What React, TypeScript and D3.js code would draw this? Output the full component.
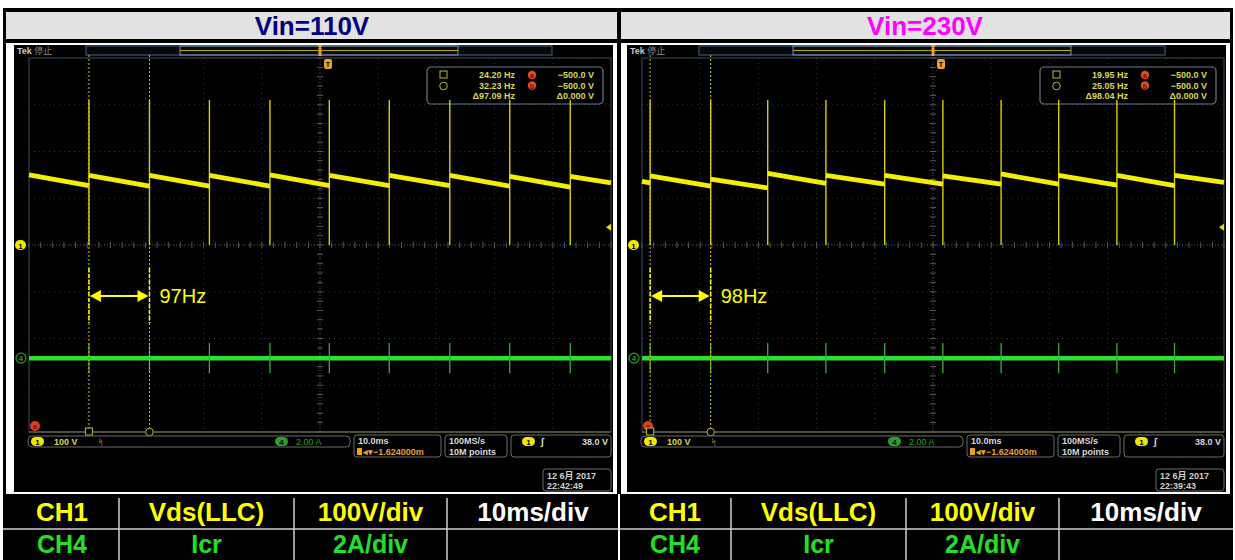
import React from "react";
import * as d3 from "d3";

const W = 1235;
const H = 560;

const panelTitles = ["Vin=110V", "Vin=230V"];
const titleColors = ["#000080", "#ff00ff"];
const freqLabels = ["97Hz", "98Hz"];

// switching-burst spike times (ms from trigger), 10 ms/div
const spikeTimes110 = [-39.7, -29.3, -19.0, -8.6, 1.6, 11.9, 22.3, 32.6, 43.0];
const spikeTimes230 = [-48.6, -38.2, -28.4, -18.4, -8.3, 1.7, 11.7, 21.6, 31.6, 41.5];
// Vds sawtooth level (V) at start / end of each segment between spikes
const segStart110 = [150, 149, 149, 149, 150, 149, 149, 149, 147, 147];
const segEnd110 = [127, 126, 126, 126, 127, 127, 127, 126, 124, 133];
const segStart230 = [136, 148, 141, 153, 149, 149, 148, 152, 149, 149, 149];
const segEnd230 = [133, 126, 122, 132, 130, 130, 130, 130, 128, 127, 134];
const spikePeakV = 310;
const ch4SpikeA = 0.65;

const cursorTimes110 = [-39.7, -29.3];
const cursorTimes230 = [-48.6, -38.2];
const cursorHz110 = ["24.20 Hz", "32.23 Hz", "\u039497.09 Hz"];
const cursorHz230 = ["19.95 Hz", "25.05 Hz", "\u039498.04 Hz"];
const cursorVolts = ["\u2212500.0 V", "\u2212500.0 V", "\u03940.000 V"];
const dates110 = ["12 6\u6708  2017", "22:42:49"];
const dates230 = ["12 6\u6708  2017", "22:39:43"];

const ch1VoltsPerDiv = 100;
const ch4AmpsPerDiv = 2;
const ch4PositionDiv = -2.42;
const triggerLevelV = 38.0;
const timeDomain = [-50, 50];
const hDivs = 10;
const vDivs = 8;

const tableRow1 = ["CH1", "Vds(LLC)", "100V/div", "10ms/div"];
const tableRow2 = ["CH4", "Icr", "2A/div", ""];
const row1Colors = ["#ffff00", "#ffff00", "#ffff00", "#ffffff"];
const row2Colors = ["#22e022", "#22e022", "#22e022", "#ffffff"];

const SANS = "'Liberation Sans', Arial, 'Noto Sans CJK SC', sans-serif";
const YEL = "#f4ef00";

type ScopeProps = {
  x0: number;
  spikes: number[];
  segStart: number[];
  segEnd: number[];
  cursors: number[];
  hz: string[];
  dates: string[];
  freq: string;
};

function Scope({ x0, spikes, segStart, segEnd, cursors, hz, dates, freq }: ScopeProps) {
  const gx0 = x0 + 15;
  const gx1 = x0 + 597;
  const gy0 = 58;
  const gy1 = 432;
  const x = d3.scaleLinear().domain(timeDomain).range([gx0, gx1]);
  const y1 = d3
    .scaleLinear()
    .domain([(-vDivs / 2) * ch1VoltsPerDiv, (vDivs / 2) * ch1VoltsPerDiv])
    .range([gy1, gy0]);
  const y4 = d3
    .scaleLinear()
    .domain([(-vDivs / 2 - ch4PositionDiv) * ch4AmpsPerDiv, (vDivs / 2 - ch4PositionDiv) * ch4AmpsPerDiv])
    .range([gy1, gy0]);
  const dx = (gx1 - gx0) / hDivs;
  const dy = (gy1 - gy0) / vDivs;
  const cx = (gx0 + gx1) / 2;
  const cy = (gy0 + gy1) / 2;

  const bounds = [timeDomain[0], ...spikes, timeDomain[1]];
  const line = d3
    .line<[number, number]>()
    .x((d) => x(d[0]))
    .y((d) => y1(d[1]));

  const ticks: JSX.Element[] = [];
  for (let i = 0; i <= hDivs * 5; i++) {
    const xx = gx0 + (i * dx) / 5;
    ticks.push(<line key={"th" + i} x1={xx} x2={xx} y1={cy - 3} y2={cy + 3} stroke="#555" strokeWidth={1} />);
  }
  for (let j = 0; j <= vDivs * 5; j++) {
    const yy = gy0 + (j * dy) / 5;
    ticks.push(<line key={"tv" + j} x1={cx - 3} x2={cx + 3} y1={yy} y2={yy} stroke="#555" strokeWidth={1} />);
  }

  const c1 = x(cursors[0]);
  const c2 = x(cursors[1]);
  const ay = 296;

  return (
    <g>
      <rect x={x0} y={45} width={599} height={447} fill="#000" />
      {/* grid */}
      {d3.range(1, hDivs).map((i) => (
        <line key={"gv" + i} x1={gx0 + i * dx} x2={gx0 + i * dx} y1={gy0} y2={gy1} stroke="#333" strokeDasharray="1,4" />
      ))}
      {d3.range(1, vDivs).map((j) => (
        <line key={"gh" + j} x1={gx0} x2={gx1} y1={gy0 + j * dy} y2={gy0 + j * dy} stroke="#333" strokeDasharray="1,4" />
      ))}
      <line x1={cx} x2={cx} y1={gy0} y2={gy1} stroke="#505050" strokeDasharray="1,2" />
      <line x1={gx0} x2={gx1} y1={cy} y2={cy} stroke="#505050" strokeDasharray="1,2" />
      {ticks}
      <rect x={gx0} y={gy0} width={gx1 - gx0} height={gy1 - gy0} fill="none" stroke="#3d4a58" strokeWidth={1} />
      <line x1={gx0} x2={gx1} y1={gy1} y2={gy1} stroke="#5c5c3a" strokeWidth={1.5} />

      {/* top record bar */}
      <text x={x0 + 3} y={54} fontFamily={SANS} fontSize={9} fontWeight="bold" fill="#c8c8c8">
        Tek <tspan fill="#8a8a8a" fontWeight="normal">停止</tspan>
      </text>
      <rect x={x0 + 72} y={46} width={466} height={9} fill="#05080d" stroke="#4a6580" strokeWidth={1} />
      <rect x={x0 + 166} y={46} width={278} height={9} fill="none" stroke="#7e93a8" strokeWidth={1} />
      <line x1={x0 + 166} x2={x0 + 444} y1={50.5} y2={50.5} stroke="#b8a800" strokeWidth={1.2} />
      <path d={`M${cx - 3},45 h6 l-3,4 z`} fill="#f0a020" />
      <rect x={cx - 1.5} y={48} width={3} height={8} fill="#f0a020" />
      <rect x={cx + 4} y={59} width={8} height={10} rx={2} fill="#f0a020" />
      <text x={cx + 8} y={67} textAnchor="middle" fontFamily={SANS} fontSize={7} fontWeight="bold" fill="#000">T</text>

      {/* cursor readout */}
      <rect x={x0 + 413} y={67} width={176} height={37} rx={4} fill="#000" stroke="#6d7886" strokeWidth={1.2} />
      <rect x={x0 + 426} y={71} width={7} height={7} fill="none" stroke="#b8b840" />
      <circle cx={x0 + 429.5} cy={86} r={3.8} fill="none" stroke="#b8b840" />
      {hz.map((t, i) => (
        <text key={"hz" + i} x={x0 + 501} y={78 + i * 10.5} textAnchor="end" fontFamily={SANS} fontSize={9} fontWeight="bold" fill="#d8d84a">{t}</text>
      ))}
      {["a", "b"].map((l, i) => (
        <g key={"ab" + l}>
          <circle cx={x0 + 518} cy={75 + i * 10.5} r={4.2} fill="#e04a24" />
          <text x={x0 + 518} y={78 + i * 10.5} textAnchor="middle" fontFamily={SANS} fontSize={7} fontWeight="bold" fill="#701000">{l}</text>
        </g>
      ))}
      {cursorVolts.map((t, i) => (
        <text key={"cv" + i} x={x0 + 580} y={78 + i * 10.5} textAnchor="end" fontFamily={SANS} fontSize={9} fontWeight="bold" fill="#d8d84a">{t}</text>
      ))}

      {/* ch4 trace */}
      <line x1={gx0} x2={gx1} y1={y4(0)} y2={y4(0)} stroke="#2ee02e" strokeWidth={4.5} />
      {spikes.map((t, i) => (
        <line key={"g" + i} x1={x(t)} x2={x(t)} y1={y4(ch4SpikeA)} y2={y4(-ch4SpikeA)} stroke="#3caa3c" strokeWidth={1.3} />
      ))}

      {/* cursors */}
      {cursors.map((t, i) => (
        <line key={"cu" + i} x1={x(t)} x2={x(t)} y1={gy0 - 3} y2={gy1} stroke="#c8c400" strokeWidth={1} strokeDasharray="2,2" />
      ))}

      {/* ch1 trace */}
      {spikes.map((t, i) => (
        <line key={"s" + i} x1={x(t)} x2={x(t)} y1={y1(spikePeakV)} y2={y1(0)} stroke="#d8d000" strokeWidth={1.4} />
      ))}
      {segStart.map((v, k) => (
        <path
          key={"seg" + k}
          d={line([
            [bounds[k], v],
            [bounds[k + 1], segEnd[k]],
          ]) as string}
          stroke={YEL}
          strokeWidth={4.8}
          fill="none"
        />
      ))}

      {/* markers */}
      <rect x={x0 + 1} y={y1(0) - 5} width={11} height={10} rx={5} fill="#f0e800" />
      <text x={x0 + 6.5} y={y1(0) + 3.5} textAnchor="middle" fontFamily={SANS} fontSize={8} fontWeight="bold" fill="#000">1</text>
      <circle cx={x0 + 7} cy={y4(0)} r={5} fill="#000" stroke="#2aa02a" strokeWidth={1.2} />
      <text x={x0 + 7} y={y4(0) + 3} textAnchor="middle" fontFamily={SANS} fontSize={7} fontWeight="bold" fill="#2aa02a">4</text>
      <path d={`M${gx1 - 5},${y1(triggerLevelV)} l5,-3.5 v7 z`} fill="#e8e000" />
      <circle cx={gx0 + 6} cy={gy1 - 6} r={5} fill="#d8401c" />
      <text x={gx0 + 6} y={gy1 - 3} textAnchor="middle" fontFamily={SANS} fontSize={7} fontWeight="bold" fill="#701000">a</text>
      <rect x={c1 - 3.5} y={gy1 - 4} width={7} height={7} fill="#000" stroke="#b8b840" />
      <circle cx={c2} cy={gy1} r={3.8} fill="#000" stroke="#b8b840" />

      {/* annotation */}
      {[c1, c2].map((cxv, i) => (
        <line key={"an" + i} x1={cxv} x2={cxv} y1={268} y2={323} stroke="#ffff00" strokeWidth={1.5} strokeDasharray="4,2" />
      ))}
      <line x1={c1 + 8} x2={c2 - 8} y1={ay} y2={ay} stroke="#ffff00" strokeWidth={2} />
      <path d={`M${c1 + 1},${ay} l11,-6 v12 z`} fill="#ffff00" />
      <path d={`M${c2 - 1},${ay} l-11,-6 v12 z`} fill="#ffff00" />
      <text x={c2 + 10} y={303} fontFamily={SANS} fontSize={20} fill="#ffff00">{freq}</text>

      {/* status bar */}
      <rect x={x0 + 14} y={436} width={322} height={11} rx={4} fill="#000" stroke="#6a6a6a" />
      <rect x={x0 + 17} y={437} width={13} height={9} rx={4.5} fill="#f0e800" />
      <text x={x0 + 23.5} y={444.5} textAnchor="middle" fontFamily={SANS} fontSize={8} fontWeight="bold" fill="#000">1</text>
      <text x={x0 + 40} y={445} fontFamily={SANS} fontSize={9} fontWeight="bold" fill="#d8d84a">100 V</text>
      <text x={x0 + 84} y={445} fontFamily={SANS} fontSize={9} fill="#d8d84a">ᛋ</text>
      <rect x={x0 + 261} y={437} width={13} height={9} rx={4.5} fill="#2aa02a" />
      <text x={x0 + 267.5} y={444.5} textAnchor="middle" fontFamily={SANS} fontSize={8} fontWeight="bold" fill="#000">4</text>
      <text x={x0 + 282} y={445} fontFamily={SANS} fontSize={9} fill="#2aa02a">2.00 A</text>

      <rect x={x0 + 340} y={435} width={87} height={22} rx={3} fill="#000" stroke="#6a6a6a" />
      <text x={x0 + 344} y={444} fontFamily={SANS} fontSize={9} fontWeight="bold" fill="#d8d8d8">10.0ms</text>
      <rect x={x0 + 343} y={448} width={5} height={7} fill="#f0a020" />
      <text x={x0 + 349} y={455} fontFamily={SANS} fontSize={9} fontWeight="bold" fill="#e8a030">{"\u25C2\u25BE\u22121.624000m"}</text>
      <rect x={x0 + 431} y={435} width={62} height={22} rx={3} fill="#000" stroke="#6a6a6a" />
      <text x={x0 + 435} y={444} fontFamily={SANS} fontSize={9} fontWeight="bold" fill="#d8d8d8">100MS/s</text>
      <text x={x0 + 435} y={455} fontFamily={SANS} fontSize={9} fontWeight="bold" fill="#d8d8d8">10M points</text>
      <rect x={x0 + 497} y={435} width={100} height={22} rx={3} fill="#000" stroke="#6a6a6a" />
      <rect x={x0 + 508} y={437} width={13} height={9} rx={4.5} fill="#f0e800" />
      <text x={x0 + 514.5} y={444.5} textAnchor="middle" fontFamily={SANS} fontSize={8} fontWeight="bold" fill="#000">1</text>
      <text x={x0 + 527} y={445} fontFamily={SANS} fontSize={10} fontWeight="bold" fill="#d8d8d8">∫</text>
      <text x={x0 + 594} y={445} textAnchor="end" fontFamily={SANS} fontSize={9} fontWeight="bold" fill="#d8d8d8">38.0 V</text>

      <rect x={x0 + 529} y={469} width={68} height={22} rx={3} fill="#000" stroke="#6a6a6a" />
      <text x={x0 + 533} y={479} fontFamily={SANS} fontSize={9} fontWeight="bold" fill="#d0d0d0">{dates[0]}</text>
      <text x={x0 + 533} y={489} fontFamily={SANS} fontSize={9} fontWeight="bold" fill="#d0d0d0">{dates[1]}</text>
    </g>
  );
}

export default function App() {
  const leftCols = [5, 119, 294, 447, 619];
  const rightCols = [619, 731, 906, 1059, 1233];
  const rowMid = 529;
  const rowBot = 560;

  const renderTable = (cols: number[], key: string) => (
    <g key={key}>
      {tableRow1.map((t, i) => (
        <text key={"r1" + i} x={(cols[i] + cols[i + 1]) / 2} y={521} textAnchor="middle" fontFamily={SANS} fontSize={26} fontWeight="bold" fill={row1Colors[i]}>{t}</text>
      ))}
      {tableRow2.map((t, i) => (
        <text key={"r2" + i} x={(cols[i] + cols[i + 1]) / 2} y={553} textAnchor="middle" fontFamily={SANS} fontSize={25} fontWeight="bold" fill={row2Colors[i]}>{t}</text>
      ))}
      {cols.slice(1, 4).map((c, i) => (
        <line key={"cl" + i} x1={c} x2={c} y1={498} y2={rowBot} stroke="#cfcfcf" strokeWidth={1.5} />
      ))}
    </g>
  );

  return (
    <svg width={W} height={H} style={{ position: "absolute", left: 0, top: 0, background: "#fff" }}>
      <rect x={0} y={0} width={W} height={H} fill="#fff" />
      <rect x={3} y={8} width={1230} height={552} fill="#000" />
      {/* headers */}
      <rect x={6} y={12} width={611} height={27} fill="#e2e2e2" />
      <rect x={621} y={12} width={609} height={27} fill="#e2e2e2" />
      {panelTitles.map((t, i) => (
        <text key={t} x={i === 0 ? 312 : 925} y={35} textAnchor="middle" fontFamily={SANS} fontSize={26} fontWeight="bold" fill={titleColors[i]}>{t}</text>
      ))}
      {/* white body */}
      <rect x={6} y={43} width={611} height={451} fill="#fff" />
      <rect x={621} y={43} width={609} height={451} fill="#fff" />
      <Scope x0={14} spikes={spikeTimes110} segStart={segStart110} segEnd={segEnd110} cursors={cursorTimes110} hz={cursorHz110} dates={dates110} freq={freqLabels[0]} />
      <Scope x0={627} spikes={spikeTimes230} segStart={segStart230} segEnd={segEnd230} cursors={cursorTimes230} hz={cursorHz230} dates={dates230} freq={freqLabels[1]} />
      {/* table */}
      <rect x={3} y={494} width={1230} height={66} fill="#000" />
      <line x1={3} x2={1233} y1={rowMid} y2={rowMid} stroke="#cfcfcf" strokeWidth={1.5} />
      <line x1={619} x2={619} y1={494} y2={rowBot} stroke="#ffffff" strokeWidth={2} />
      {renderTable(leftCols, "L")}
      {renderTable(rightCols, "R")}
    </svg>
  );
}
